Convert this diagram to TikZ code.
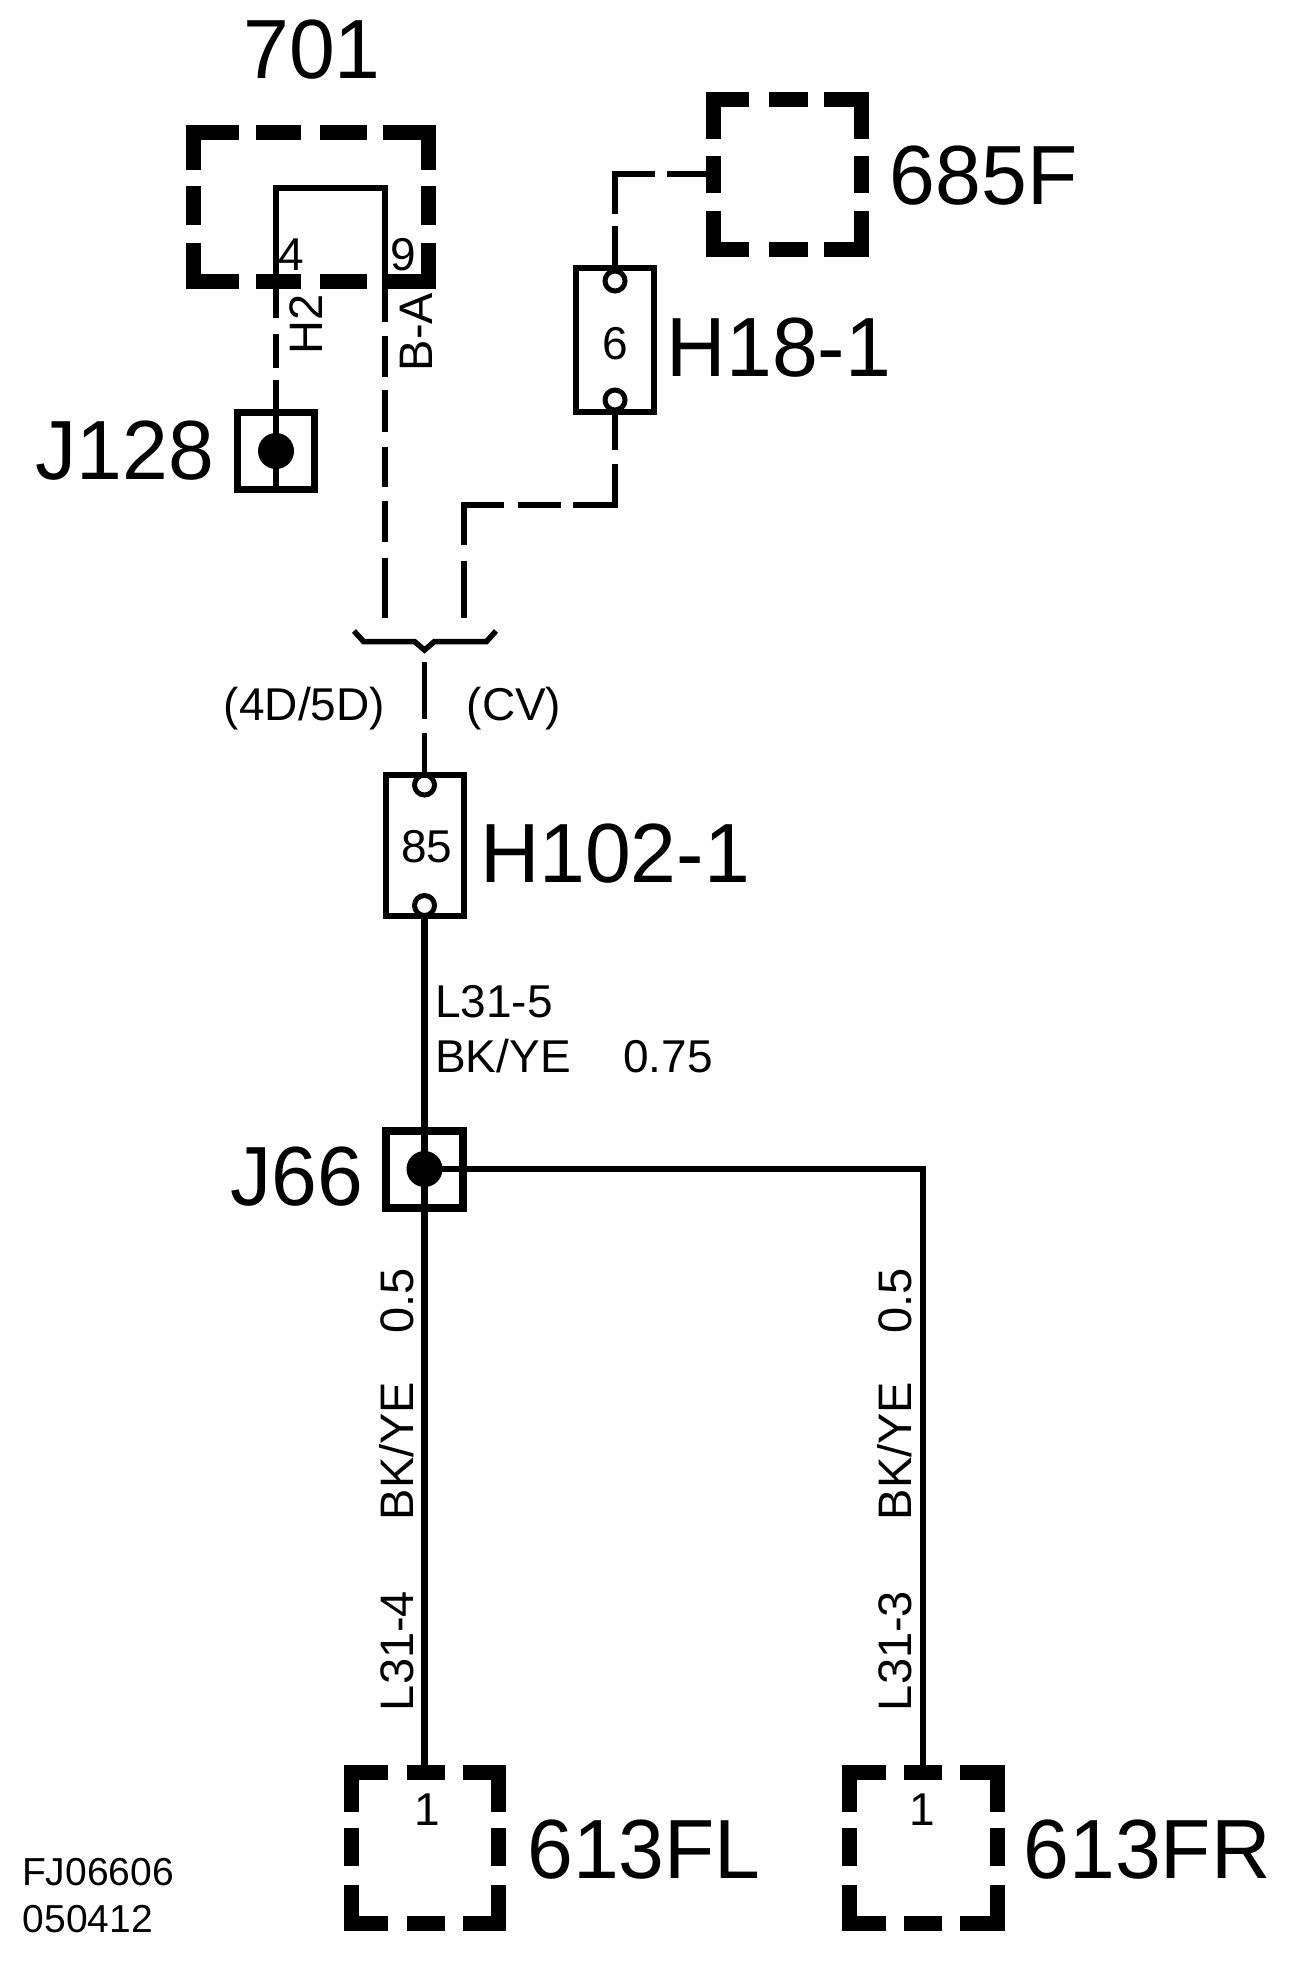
\documentclass[tikz,border=0pt]{standalone}
\usepackage{fontspec}
\setmainfont{Liberation Sans}
\newfontfamily\narrowfont[FakeStretch=0.98]{Liberation Sans}
\tikzset{
  biglabel/.style={font=\narrowfont\fontsize{84}{84}\selectfont, inner sep=0pt, anchor=base},
  smalllabel/.style={font=\fontsize{46}{46}\selectfont, inner sep=0pt, anchor=base},
  tinylabel/.style={font=\fontsize{39}{39}\selectfont, inner sep=0pt, anchor=base},
  sidelabel/.style={font=\fontsize{47}{47}\selectfont, inner sep=0pt, anchor=base, rotate=90},
  heavy/.style={line width=15pt, line cap=butt, line join=miter},
  wire/.style={line width=5.5pt, line cap=butt, line join=miter},
  mainwire/.style={line width=6.5pt, line cap=butt, line join=miter},
  fusebox/.style={draw, rectangle, line width=6pt, inner sep=0pt, outer sep=0pt, minimum width=78pt, minimum height=144pt},
  joint/.style={draw, rectangle, line width=7pt, inner sep=0pt, minimum width=77pt, minimum height=77pt},
  dot/.style={circle, fill=black, inner sep=0pt, minimum size=36pt},
  pin/.style={circle, draw, fill=white, line width=5pt, inner sep=0pt, minimum size=20pt},
  boxarea/.style={rectangle, inner sep=0pt}
}
% name x0 x1 y0 y1 | end of left corner in x, start of right corner in x, end of upper corner in y, start of lower corner in y
\newcommand{\cornerbox}[9]{%
  \node[boxarea, minimum width={#3-#2}, minimum height={#5-#4}] (#1) at ({(#2+#3)/2},{(#4+#5)/2}) {};
  \draw[heavy] (#6,#4) -- (#2,#4) -- (#2,#8);
  \draw[heavy] (#7,#4) -- (#3,#4) -- (#3,#8);
  \draw[heavy] (#6,#5) -- (#2,#5) -- (#2,#9);
  \draw[heavy] (#7,#5) -- (#3,#5) -- (#3,#9);
}
\begin{document}
\begin{tikzpicture}[x=1pt,y=-1pt]
\path[fill=white,use as bounding box] (0,0) rectangle (1312,1978);

% dashed outline boxes
\cornerbox{b701}{193}{428}{132}{281}{239}{383}{170}{243}
\draw[heavy] (256,132) -- (301,132) (320,132) -- (367,132) (256,281) -- (301,281) (320,281) -- (367,281)
  (193,186) -- (193,225) (428,186) -- (428,225);
\cornerbox{b685}{713}{861}{99}{249}{749}{824}{139}{211}
\draw[heavy] (768.5,99) -- (808,99) (768.5,249) -- (808,249) (713,156) -- (713,193) (861,156) -- (861,193);
\cornerbox{fl}{351}{498}{1772}{1923}{387.5}{463}{1812}{1885}
\draw[heavy] (406.7,1772) -- (445,1772) (406.7,1923) -- (445,1923) (351,1828) -- (351,1866) (498,1828) -- (498,1866);
\cornerbox{fr}{849}{997}{1772}{1923}{885.5}{960}{1812}{1885}
\draw[heavy] (904,1772) -- (941.5,1772) (904,1923) -- (941.5,1923) (849,1828) -- (849,1866) (997,1828) -- (997,1866);

% solid nodes
\node[joint] (j128) at (276,451) {};
\node[fusebox] (h18) at (615,340) {};
\node[fusebox, minimum height=141pt] (h102) at (424.5,845.5) {};
\node[joint, line width=8pt] (j66) at (424.5,1169) {};
\coordinate (c701a) at (276,188);
\coordinate (c701b) at (385,188);
\coordinate (e4d) at (385,617.5);
\coordinate (ecv) at (464,617.5);
\coordinate (ccv) at (464,505);
\coordinate (tip) at (424.5,650);
\coordinate (bl) at (354,631);
\coordinate (br) at (496,631);

% connectors
\draw[wire, dash pattern=on 113pt off 12pt on 34.5pt off 16pt on 372pt off 14pt on 41pt off 13.5pt on 41.5pt off 15pt on 40pt off 14pt on 41pt off 16pt on 200pt]
  (j128.south) -- (c701a) -- (c701b) -- (e4d);
\draw[wire, dash pattern=on 38pt off 14pt on 83.5pt off 12pt on 43pt off 14pt on 79pt off 16pt on 200pt]
  (h18.south) |- (ccv) -- (ecv);
\draw[wire, dash pattern=on 42pt off 12.5pt on 79pt off 12.5pt on 100pt]
  (h18.north) |- (b685.west);
\draw[wire, dash pattern=on 42.5pt off 13.5pt on 57.5pt off 300pt]
  (h102.north) -- (tip);
\draw[wire] (bl) -- (363.5,641.5) -- (414.5,641.5) -- (tip) -- (434.5,641.5) -- (486.5,641.5) -- (br);
\draw[mainwire] (h102.south) -- (j66.center);
\draw[mainwire] (j66.center) -- (j66.center |- fl.north);
\draw[wire] (j66.center) -| (fr.north);

% terminals
\node[dot] (d128) at (j128.center) {};
\node[dot] (d66) at (j66.center) {};
\node[pin] (p18a) at (615,281) {};
\node[pin] (p18b) at (615,400) {};
\node[pin] (p102a) at (424.5,785) {};
\node[pin] (p102b) at (424.5,905.5) {};
\draw[line width=6pt] (h18.north west) rectangle (h18.south east);
\draw[line width=6pt] (h102.north west) rectangle (h102.south east);

% big labels
\node[biglabel] (l701) at (312,78) {701};
\node[biglabel] (l685) at (983.5,204) {685F};
\node[biglabel] (l18) at (779,376.5) {H18-1};
\node[biglabel] (l128) at (125,479) {J128};
\node[biglabel] (l102) at (615,882) {H102-1};
\node[biglabel] (l66) at (297,1205) {J66};
\node[biglabel] (lfl) at (644,1878) {613FL};
\node[biglabel] (lfr) at (1147,1878) {613FR};

% small labels
\node[smalllabel] (n4) at (291.5,270) {4};
\node[smalllabel] (n9) at (403,270) {9};
\node[sidelabel] (nh2) at (322,324) {H2};
\node[sidelabel] (nba) at (432,332) {B-A};
\node[smalllabel] (n6) at (615,359) {6};
\node[smalllabel] (n85) at (427,862) {85};
\node[smalllabel] (n4d) at (304.5,720) {(4D/5D)};
\node[smalllabel] (ncv) at (514,720) {(CV)};
\node[smalllabel] (nl5) at (494,1017) {L31-5};
\node[smalllabel] (nby) at (503,1072.6) {BK/YE};
\node[smalllabel] (n75) at (668,1072.6) {0.75};
\node[sidelabel] (a1) at (413,1300.6) {0.5};
\node[sidelabel] (a2) at (413,1451) {BK/YE};
\node[sidelabel] (a3) at (413,1651) {L31-4};
\node[sidelabel] (b1) at (911,1300.6) {0.5};
\node[sidelabel] (b2) at (911,1451) {BK/YE};
\node[sidelabel] (b3) at (911,1651) {L31-3};
\node[smalllabel] (n1l) at (427,1825) {1};
\node[smalllabel] (n1r) at (922,1825) {1};
\node[tinylabel] (t1) at (98,1885) {FJ06606};
\node[tinylabel] (t2) at (88,1932.5) {050412};
\end{tikzpicture}
\end{document}
